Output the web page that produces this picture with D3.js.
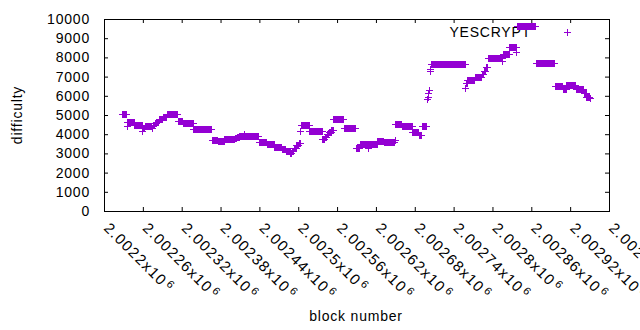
<!DOCTYPE html>
<html>
<head>
<meta charset="utf-8">
<script src="https://cdn.jsdelivr.net/npm/d3@7"></script>
<style>
  body { margin: 0; background: #fff; }
  text { font-family: "Liberation Sans", Arial, sans-serif; }
</style>
</head>
<body>
<svg id="Viz" width="640" height="330"></svg>
<script>
// difficulty per block, stored as runs: [first block, last block, difficulty]
var difficultyRuns = [
  [2002228, 2002234, 5050], [2002235, 2002235, 4440], [2002236, 2002246, 4630],
  [2002247, 2002258, 4455], [2002259, 2002259, 4180], [2002260, 2002262, 4300],
  [2002263, 2002273, 4440], [2002274, 2002274, 4320], [2002275, 2002277, 4500],
  [2002278, 2002280, 4580], [2002281, 2002284, 4660], [2002285, 2002290, 4780],
  [2002291, 2002296, 4880], [2002297, 2002313, 5050], [2002314, 2002321, 4700],
  [2002322, 2002337, 4580], [2002338, 2002366, 4265], [2002367, 2002375, 3700],
  [2002376, 2002385, 3620], [2002386, 2002401, 3725], [2002402, 2002404, 3780],
  [2002405, 2002408, 3850], [2002409, 2002415, 3915], [2002416, 2002416, 4030],
  [2002417, 2002438, 3915], [2002439, 2002450, 3585], [2002451, 2002462, 3500],
  [2002463, 2002474, 3345], [2002475, 2002480, 3230], [2002481, 2002487, 3120],
  [2002488, 2002489, 3030], [2002490, 2002492, 3150], [2002493, 2002496, 3300],
  [2002497, 2002500, 3420], [2002501, 2002502, 3550], [2002503, 2002503, 4170],
  [2002504, 2002516, 4475], [2002517, 2002536, 4160], [2002537, 2002540, 3760],
  [2002541, 2002543, 3880], [2002544, 2002546, 4000], [2002547, 2002550, 4100],
  [2002551, 2002553, 4200], [2002554, 2002569, 4785], [2002570, 2002588, 4315],
  [2002589, 2002594, 3300], [2002595, 2002606, 3500], [2002607, 2002607, 3270],
  [2002608, 2002621, 3490], [2002622, 2002631, 3640], [2002632, 2002648, 3585],
  [2002649, 2002649, 3700], [2002650, 2002659, 4525], [2002660, 2002675, 4440],
  [2002676, 2002685, 4110], [2002686, 2002690, 3970], [2002691, 2002698, 4440],
  [2002699, 2002699, 5830], [2002700, 2002700, 5950], [2002701, 2002701, 6150],
  [2002702, 2002702, 6280], [2002703, 2002703, 7300], [2002704, 2002704, 7420],
  [2002705, 2002757, 7650], [2002758, 2002758, 6410], [2002759, 2002760, 6660],
  [2002761, 2002772, 6830], [2002773, 2002783, 6970], [2002784, 2002786, 7150],
  [2002787, 2002789, 7300], [2002790, 2002792, 7500], [2002793, 2002814, 7960],
  [2002815, 2002815, 7790], [2002816, 2002825, 8170], [2002826, 2002836, 8535],
  [2002837, 2002837, 8260], [2002838, 2002866, 9630], [2002867, 2002895, 7700],
  [2002896, 2002908, 6500], [2002909, 2002913, 6370], [2002914, 2002928, 6560],
  [2002929, 2002940, 6380], [2002941, 2002944, 6150], [2002945, 2002949, 5950],
  [2002950, 2002951, 5870]
];

var xTickValues = [2002200, 2002260, 2002320, 2002380, 2002440, 2002500, 2002560,
                   2002620, 2002680, 2002740, 2002800, 2002860, 2002920, 2002980];
var yTickValues = [0, 1000, 2000, 3000, 4000, 5000, 6000, 7000, 8000, 9000, 10000];
var seriesName = "YESCRYPT";

var svg = d3.select("#Viz"),
    width = +svg.attr("width"),
    height = +svg.attr("height");

var plotLeft = 104, plotRight = 609, plotTop = 19, plotBottom = 211;
var purple = "#9400d3";
var font = 14, spacing = "0.8px";

var x = d3.scaleLinear().domain([2002200, 2002980]).range([plotLeft, plotRight]);
var y = d3.scaleLinear().domain([0, 10000]).range([plotBottom, plotTop]);

// one point per block
var points = [];
difficultyRuns.forEach(function(r) {
  for (var b = r[0]; b <= r[1]; b++) points.push({block: b, difficulty: r[2]});
});

function styleAxis(g) {
  g.select(".domain").remove();
  g.selectAll(".tick line").attr("stroke", "#000");
  g.selectAll("text")
    .attr("font-family", '"Liberation Sans", Arial, sans-serif')
    .attr("font-size", font)
    .attr("letter-spacing", spacing)
    .attr("fill", "#000");
}

// ticks on all four sides, pointing inwards
svg.append("g")
    .attr("transform", "translate(0," + plotBottom + ")")
    .call(d3.axisBottom(x).tickValues(xTickValues).tickSize(-4).tickFormat(""))
    .call(styleAxis);
svg.append("g")
    .attr("transform", "translate(0," + plotTop + ")")
    .call(d3.axisTop(x).tickValues(xTickValues).tickSize(-4).tickFormat(""))
    .call(styleAxis);
svg.append("g")
    .attr("transform", "translate(" + plotLeft + ",0)")
    .call(d3.axisLeft(y).tickValues(yTickValues).tickSize(-4).tickPadding(14)
            .tickFormat(d3.format("d")))
    .call(styleAxis);
svg.append("g")
    .attr("transform", "translate(" + plotRight + ",0)")
    .call(d3.axisRight(y).tickValues(yTickValues).tickSize(-4).tickFormat(""))
    .call(styleAxis);

svg.append("rect")
    .attr("x", plotLeft + 0.5).attr("y", plotTop + 0.5)
    .attr("width", plotRight - plotLeft).attr("height", plotBottom - plotTop)
    .attr("fill", "none").attr("stroke", "#000");

// rotated x tick labels like 2.0022x10^6
var xl = svg.append("g").selectAll("text")
  .data(xTickValues)
  .enter().append("text")
    .attr("transform", function(d) { return "translate(" + (x(d) - 1) + ",229) rotate(45)"; })
    .attr("font-size", 15)
    .attr("letter-spacing", "1.3px");
xl.append("tspan")
    .text(function(d) { return (d / 1e6).toFixed(5).replace(/0+$/, "") + "x10"; });
xl.append("tspan")
    .attr("dx", 2).attr("dy", -5)
    .attr("font-size", 11)
    .text("6");

svg.append("text")
    .attr("transform", "translate(22," + (plotTop + plotBottom) / 2 + ") rotate(-90)")
    .attr("text-anchor", "middle")
    .attr("font-size", font)
    .attr("letter-spacing", spacing)
    .text("difficulty");

svg.append("text")
    .attr("x", 356).attr("y", 321)
    .attr("text-anchor", "middle")
    .attr("font-size", font)
    .attr("letter-spacing", spacing)
    .text("block number");

// key
svg.append("text")
    .attr("x", 531).attr("y", 32)
    .attr("dy", "0.35em")
    .attr("text-anchor", "end")
    .attr("font-size", font)
    .attr("letter-spacing", spacing)
    .text(seriesName);

function plus(px, py) {
  px = Math.round(px) + 0.5; py = Math.round(py) + 0.5;
  return "M" + (px - 3.5) + "," + py + "H" + (px + 3.5) +
         "M" + px + "," + (py - 3.5) + "V" + (py + 3.5);
}

svg.append("path")
    .attr("d", plus(567, 32))
    .attr("stroke", purple).attr("fill", "none");

svg.append("g")
  .selectAll("path")
  .data(points)
  .enter().append("path")
    .attr("d", function(d) { return plus(x(d.block), y(d.difficulty)); })
    .attr("stroke", purple)
    .attr("fill", "none")
    .attr("shape-rendering", "crispEdges");
</script>
</body>
</html>
